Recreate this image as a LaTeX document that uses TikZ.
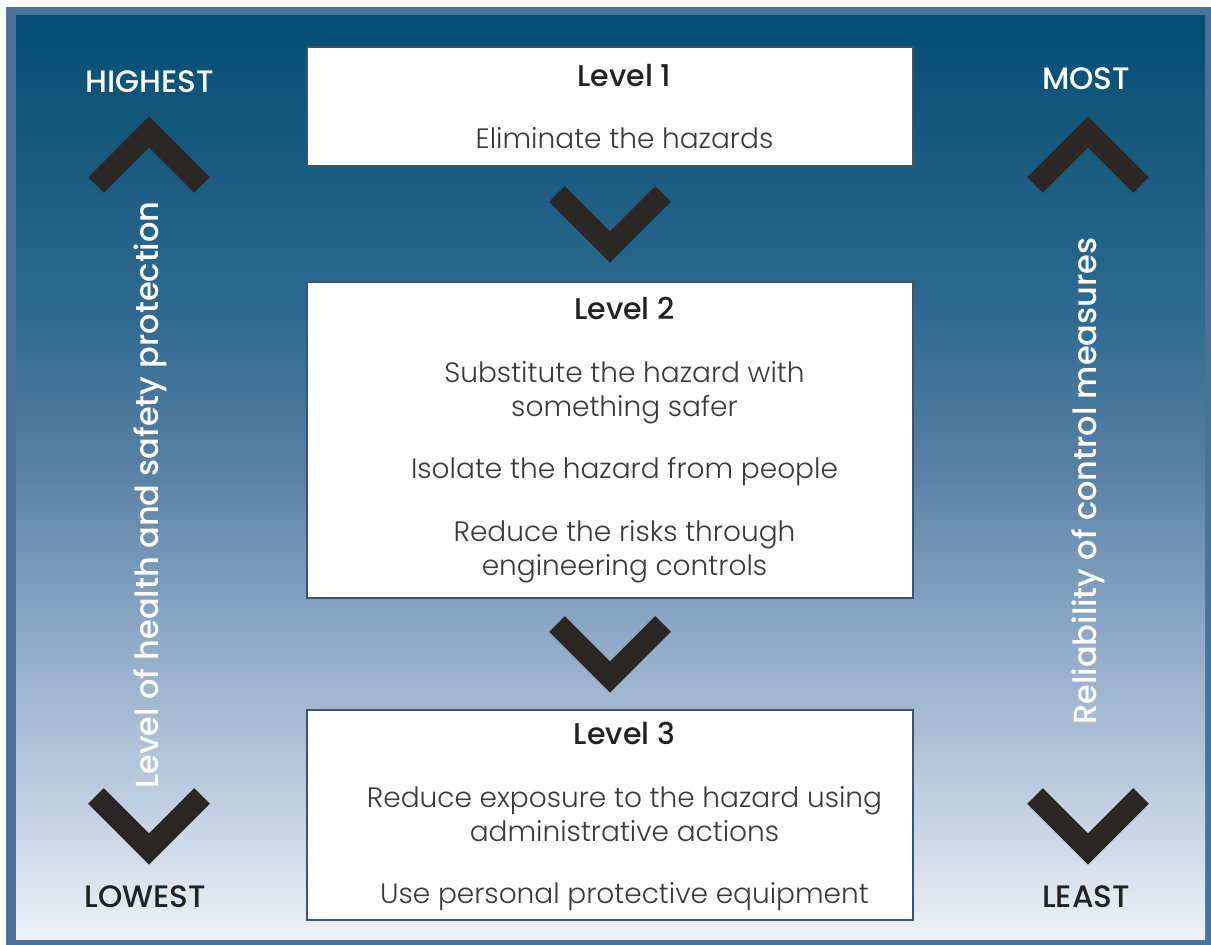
\documentclass[tikz,border=0pt]{standalone}
\usepackage{fontspec}
\setmainfont{Poppins}[UprightFont={* Light},BoldFont={* Medium}]
\usetikzlibrary{calc}

\definecolor{framecol}{HTML}{4B7398}
\definecolor{fadeA}{HTML}{044D73}
\definecolor{fadeB}{HTML}{306A90}
\definecolor{fadeC}{HTML}{5A81A5}
\definecolor{fadeD}{HTML}{8CA8C6}
\definecolor{fadeE}{HTML}{BFCEE0}
\definecolor{fadeF}{HTML}{EEF2F8}
\definecolor{chevcol}{HTML}{2A2624}
\definecolor{boxline}{HTML}{3A5570}
\definecolor{bodytext}{HTML}{3A3A3A}
\definecolor{headtext}{HTML}{222222}

\pgfdeclareverticalshading{skyfade}{100bp}{color(0bp)=(fadeF); color(25bp)=(fadeF); color(32.6bp)=(fadeE); color(41.8bp)=(fadeD); color(50.3bp)=(fadeC); color(58.8bp)=(fadeB); color(75bp)=(fadeA); color(100bp)=(fadeA)}

\tikzset{
  chevron/.style={line width=11pt, draw=chevcol},
  chevdown/.pic={\draw[chevron] (-53,-30) -- (0,23) -- (53,-30);},
  chevup/.pic={\draw[chevron] (-53,30) -- (0,-23) -- (53,30);},
  levelbox/.style={draw=boxline, line width=0.6pt, fill=white, minimum width=303pt, inner sep=0pt},
  leveltext/.style={align=center, text=bodytext, inner sep=0pt, font=\fontsize{14}{17}\selectfont},
  sidecap/.style={font=\fontsize{15.5}{18}\selectfont\bfseries, inner sep=0pt},
  sidetext/.style={font=\fontsize{16}{19}\selectfont\bfseries, text=white, inner sep=0pt}
}
\newcommand{\levelhead}[1]{{\fontsize{15}{17}\selectfont\bfseries\color{headtext}#1}}

\begin{document}
\begin{tikzpicture}[x=0.5pt,y=-0.5pt]
        %frame and background
        \fill[white] (0,0) rectangle (1211,945);
        \fill[framecol] (6,7) rectangle (1211,945);
        \shade[shading=skyfade] (16,16) rectangle (1205,940);

        %level boxes
        \node[levelbox, minimum height=59.5pt] (box1) at (610,106.5) {};
        \node[levelbox, minimum height=158pt] (box2) at (610,440) {};
        \node[levelbox, minimum height=105pt] (box3) at (610,815) {};

        %level texts
        \node[leveltext] (lvl1) at (624.5,106.5) {\levelhead{Level 1}\\[14.25pt]Eliminate the hazards};
        \node[leveltext] (lvl2) at (624.5,440) {\levelhead{Level 2}\\[14.25pt]Substitute the hazard with\\something safer\\[14.25pt]Isolate the hazard from people\\[14.25pt]Reduce the risks through\\engineering controls};
        \node[leveltext] (lvl3) at (624.5,816.5) {\levelhead{Level 3}\\[14.25pt]Reduce exposure to the hazard using\\administrative actions\\[14.25pt]Use personal protective equipment};

        %steps between levels
        \pic at ($(box1.south)!0.5!(box2.north)$) {chevdown};
        \pic at ($(box2.south)!0.5!(box3.north)$) {chevdown};

        %left scale
        \node[sidecap, text=white] (highest) at (150,82) {HIGHEST};
        \node[sidecap, text=headtext] (lowest) at (145,897) {LOWEST};
        \pic at (149,155) {chevup};
        \pic at (149,826) {chevdown};
        \node[sidetext, rotate=90] (protection) at (150,495) {Level of health and safety protection};

        %right scale
        \node[sidecap, text=white] (most) at (1086,79) {MOST};
        \node[sidecap, text=headtext] (least) at (1086,897) {LEAST};
        \pic at (1088,155) {chevup};
        \pic at (1088,826) {chevdown};
        \node[sidetext, rotate=90] (reliability) at (1088,481) {Reliability of control measures};
\end{tikzpicture}
\end{document}
